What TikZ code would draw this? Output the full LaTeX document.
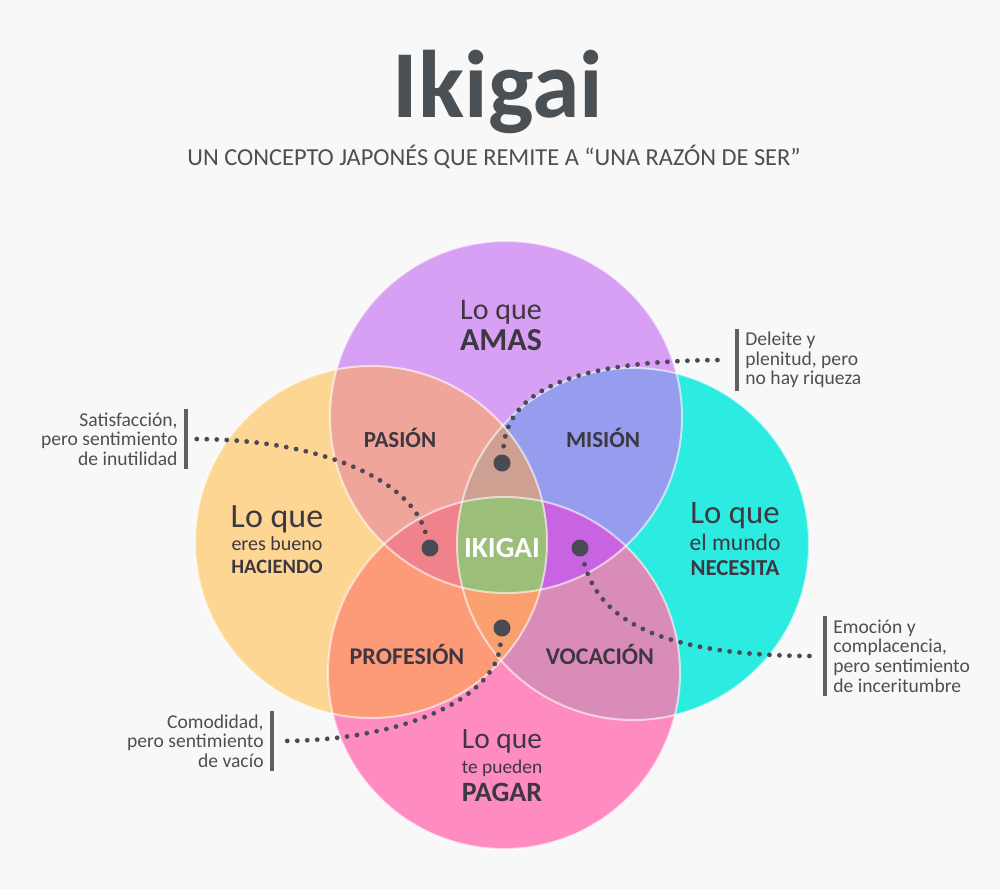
\documentclass[tikz,border=0pt]{standalone}
\usepackage{fontspec}
\setmainfont{Carlito}
\usetikzlibrary{positioning}

\definecolor{bgcol}{HTML}{F8F8F8}
\definecolor{inkcol}{HTML}{4B5054}
\definecolor{labcol}{HTML}{3E3742}
\definecolor{dotcol}{HTML}{4A4A55}
% single circles
\definecolor{cAmas}{HTML}{D7A0F5}
\definecolor{cBueno}{HTML}{FDD694}
\definecolor{cMundo}{HTML}{2CEBE1}
\definecolor{cPagar}{HTML}{FF8CC0}
% pairs
\definecolor{cPasion}{HTML}{F0A59B}
\definecolor{cMision}{HTML}{969CEE}
\definecolor{cProfesion}{HTML}{FD9B78}
\definecolor{cVocacion}{HTML}{DA8CB9}
% triples and centre
\definecolor{cTriTop}{HTML}{CDA091}
\definecolor{cTriLeft}{HTML}{F0828C}
\definecolor{cTriRight}{HTML}{C864E1}
\definecolor{cTriBot}{HTML}{FAA06E}
\definecolor{cIkigai}{HTML}{9BBE78}

\begin{document}
\begin{tikzpicture}[x=0.5pt, y=-0.5pt,
    rim/.style={draw=white, draw opacity=0.6, line width=1pt},
    head/.style={text=labcol, inner sep=0pt},
    zone/.style={text=labcol, font=\fontsize{11.5}{12}\selectfont\bfseries, inner sep=0pt},
    spot/.style={circle, fill=dotcol, inner sep=0pt, minimum size=8.5pt},
    trail/.style={draw=dotcol, line width=2.4pt, line cap=round, dash pattern=on 0pt off 5pt,
                  shorten <=4pt},
    note/.style={text=inkcol, font=\fontsize{9.8}{9.8}\selectfont, inner xsep=4pt, inner ysep=1.5pt},
    bar/.style={draw=inkcol!90, line width=2pt}]
  \fill[bgcol] (0,0) rectangle (1000,889);
  \useasboundingbox (0,0) rectangle (1000,889);

  \node[text=inkcol, font=\fontsize{48}{48}\selectfont\bfseries, inner sep=0pt] (title) at (498,92) {Ikigai};
  \node[text=inkcol, font=\fontsize{12.2}{13}\selectfont, inner sep=0pt] (subtitle) at (494,157)
    {UN CONCEPTO JAPONÉS QUE REMITE A “UNA RAZÓN DE SER”};

  % circle centres
  \coordinate (cT) at (506,417);
  \coordinate (cL) at (371,542);
  \coordinate (cR) at (633,544);
  \coordinate (cB) at (504,673);
  \def\rr{88pt}

  % single fills
  \fill[cAmas]  (cT) circle[radius=\rr];
  \fill[cBueno] (cL) circle[radius=\rr];
  \fill[cMundo] (cR) circle[radius=\rr];
  \fill[cPagar] (cB) circle[radius=\rr];
  % pairs
  \begin{scope}\clip (cT) circle[radius=\rr]; \fill[cPasion] (cL) circle[radius=\rr]; \end{scope}
  \begin{scope}\clip (cT) circle[radius=\rr]; \fill[cMision] (cR) circle[radius=\rr]; \end{scope}
  \begin{scope}\clip (cL) circle[radius=\rr]; \fill[cProfesion] (cB) circle[radius=\rr]; \end{scope}
  \begin{scope}\clip (cR) circle[radius=\rr]; \fill[cVocacion] (cB) circle[radius=\rr]; \end{scope}
  % triples
  \begin{scope}\clip (cT) circle[radius=\rr]; \clip (cL) circle[radius=\rr]; \fill[cTriTop] (cR) circle[radius=\rr]; \end{scope}
  \begin{scope}\clip (cT) circle[radius=\rr]; \clip (cL) circle[radius=\rr]; \fill[cTriLeft] (cB) circle[radius=\rr]; \end{scope}
  \begin{scope}\clip (cT) circle[radius=\rr]; \clip (cR) circle[radius=\rr]; \fill[cTriRight] (cB) circle[radius=\rr]; \end{scope}
  \begin{scope}\clip (cL) circle[radius=\rr]; \clip (cR) circle[radius=\rr]; \fill[cTriBot] (cB) circle[radius=\rr]; \end{scope}
  % all four
  \begin{scope}\clip (cT) circle[radius=\rr]; \clip (cL) circle[radius=\rr]; \clip (cR) circle[radius=\rr];
    \fill[cIkigai] (cB) circle[radius=\rr]; \end{scope}
  % rims
  \foreach \c in {cT,cL,cR,cB} \draw[rim] (\c) circle[radius=\rr];

  % circle headings
  \node[head, anchor=north, font=\fontsize{15}{15}\selectfont] (amas1) at (501,300) {Lo que};
  \node[head, below=2pt of amas1, font=\fontsize{16}{16}\selectfont\bfseries] (amas2) {AMAS};

  \node[head, anchor=north, font=\fontsize{17}{17}\selectfont] (bueno1) at (277,505) {Lo que};
  \node[head, below=1.5pt of bueno1, font=\fontsize{10}{10}\selectfont] (bueno2) {eres bueno};
  \node[head, below=4.5pt of bueno2, font=\fontsize{10.2}{10.2}\selectfont\bfseries] (bueno3) {HACIENDO};

  \node[head, anchor=north, font=\fontsize{16.4}{16.4}\selectfont] (mundo1) at (735,502) {Lo que};
  \node[head, below=2.5pt of mundo1, font=\fontsize{11.8}{11.8}\selectfont] (mundo2) {el mundo};
  \node[head, below=4.5pt of mundo2, font=\fontsize{11.4}{11.4}\selectfont\bfseries] (mundo3) {NECESITA};

  \node[head, anchor=north, font=\fontsize{14.7}{14.7}\selectfont] (pagar1) at (502,729) {Lo que};
  \node[head, below=3pt of pagar1, font=\fontsize{9.7}{9.7}\selectfont] (pagar2) {te pueden};
  \node[head, below=3pt of pagar2, font=\fontsize{14}{14}\selectfont\bfseries] (pagar3) {PAGAR};

  % zone labels
  \node[zone] (pasion) at (400,438) {PASIÓN};
  \node[zone] (mision) at (603,438) {MISIÓN};
  \node[zone, font=\fontsize{12}{12}\selectfont\bfseries] (profesion) at (407,654) {PROFESIÓN};
  \node[zone, font=\fontsize{12}{12}\selectfont\bfseries] (vocacion) at (600,654) {VOCACIÓN};
  \node[zone, text=white, font=\fontsize{14.6}{14.6}\selectfont\bfseries] (ikigai) at (502,548) {IKIGAI};

  % dots
  \node[spot] (dSat) at (430,548) {};
  \node[spot] (dDel) at (502,463) {};
  \node[spot] (dEmo) at (580,548) {};
  \node[spot] (dCom) at (502,628) {};

  % notes
  \node[note, anchor=east, align=right] (nSat) at (186,439)
    {Satisfacción,\\pero sentimiento\\de inutilidad};
  \node[note, anchor=west, align=left] (nDel) at (737,360)
    {Deleite y\\plenitud, pero\\no hay riqueza};
  \node[note, anchor=west, align=left] (nEmo) at (825,656)
    {Emoción y\\complacencia,\\pero sentimiento\\de inceritumbre};
  \node[note, anchor=east, align=right] (nCom) at (272,741)
    {Comodidad,\\pero sentimiento\\de vacío};
  \draw[bar] (nSat.north east) -- (nSat.south east);
  \draw[bar] (nDel.north west) -- (nDel.south west);
  \draw[bar] (nEmo.north west) -- (nEmo.south west);
  \draw[bar] (nCom.north east) -- (nCom.south east);
  \coordinate (eSat) at ([xshift=4pt]nSat.east);
  \coordinate (eDel) at ([xshift=-5pt]nDel.west);
  \coordinate (eEmo) at ([xshift=-5pt]nEmo.west);
  \coordinate (eCom) at ([xshift=4pt]nCom.east);

  % dotted leaders
  \draw[trail] (dSat) .. controls +(-20,-68) and +(127,0) .. (eSat);
  \draw[trail] (dDel) .. controls +(8,-83) and +(-127,0) .. (eDel);
  \draw[trail] (dEmo) .. controls +(20,72) and +(-155,0) .. (eEmo);
  \draw[trail] (dCom) .. controls +(-7,72) and +(120,0) .. (eCom);
\end{tikzpicture}
\end{document}
